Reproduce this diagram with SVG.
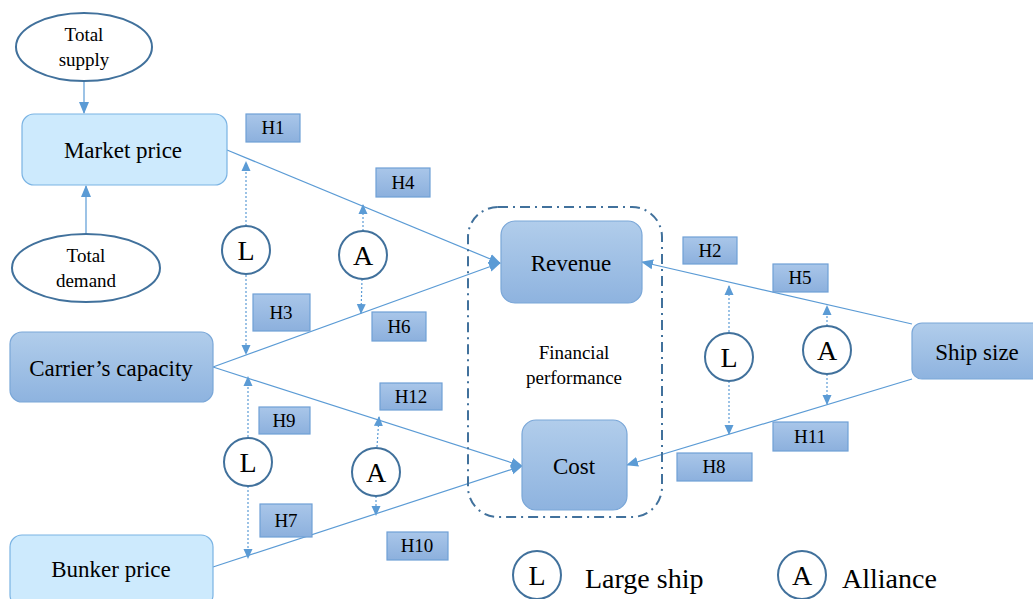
<svg xmlns="http://www.w3.org/2000/svg" width="1033" height="599" viewBox="0 0 1033 599">
<style>
text{font-family:"Liberation Serif","Times New Roman",serif;fill:#000;text-anchor:middle}
.node{font-size:23px}
.small{font-size:19px}
.hl{font-size:19px}
.circ{font-size:28px}
.leg{font-size:28px;text-anchor:start}
.ell{fill:#fff;stroke:#41719c;stroke-width:2}
.cir{fill:#fff;stroke:#41719c;stroke-width:2}
.light{fill:#cdeafd;stroke:#7ab3e3;stroke-width:1.2}
.dark{fill:url(#gDark);stroke:#7aa7d8;stroke-width:1.2}
.hbox{fill:url(#gH);stroke:#6fa0d6;stroke-width:1.2}
.conn{stroke:#5b9bd5;stroke-width:1.2;fill:none;marker-end:url(#arr)}
.dot{stroke:#5b9bd5;stroke-width:1.2;fill:none;stroke-dasharray:2,2;marker-end:url(#arrS)}
</style>
<defs>
<linearGradient id="gDark" x1="0" y1="0" x2="0" y2="1"><stop offset="0" stop-color="#b1cdeb"/><stop offset="1" stop-color="#8eb3df"/></linearGradient>
<linearGradient id="gH" x1="0" y1="0" x2="0" y2="1"><stop offset="0" stop-color="#a9c6e9"/><stop offset="1" stop-color="#8cb0dd"/></linearGradient>
<marker id="arr" markerUnits="userSpaceOnUse" markerWidth="12" markerHeight="12" viewBox="0 0 12 12" refX="11" refY="6" orient="auto"><path d="M0,1 L12,6 L0,11 Z" fill="#5b9bd5"/></marker>
<marker id="arrS" markerUnits="userSpaceOnUse" markerWidth="10" markerHeight="10" viewBox="0 0 10 10" refX="9" refY="5" orient="auto"><path d="M0,0.5 L10,5 L0,9.5 Z" fill="#5b9bd5"/></marker>
</defs>

<g id="connectors">
<line class="conn" x1="84" y1="82" x2="84" y2="113"/>
<line class="conn" x1="86" y1="234" x2="86" y2="186"/>
<line class="conn" x1="227" y1="150" x2="500" y2="263"/>
<line class="conn" x1="213" y1="367" x2="500" y2="263"/>
<line class="conn" x1="213" y1="367" x2="522" y2="466"/>
<line class="conn" x1="213" y1="567" x2="522" y2="466"/>
<line class="conn" x1="912" y1="324" x2="642" y2="262"/>
<line class="conn" x1="912" y1="379" x2="627" y2="465"/>
<line class="dot" x1="246" y1="226" x2="246" y2="162"/>
<line class="dot" x1="246" y1="275" x2="246" y2="354"/>
<line class="dot" x1="363" y1="231" x2="363" y2="205"/>
<line class="dot" x1="362" y1="279" x2="361" y2="313"/>
<line class="dot" x1="248" y1="437" x2="248" y2="377"/>
<line class="dot" x1="248" y1="486" x2="248" y2="558"/>
<line class="dot" x1="377" y1="447" x2="379" y2="417"/>
<line class="dot" x1="376" y1="496" x2="376" y2="515"/>
<line class="dot" x1="729" y1="332" x2="729" y2="286"/>
<line class="dot" x1="729" y1="381" x2="729" y2="434"/>
<line class="dot" x1="827" y1="326" x2="827" y2="306"/>
<line class="dot" x1="827" y1="374" x2="827" y2="404"/>
</g>

<g id="financial-performance">
<rect x="468" y="207" width="194" height="310" rx="30" fill="none" stroke="#41719c" stroke-width="2" stroke-dasharray="10,5,2,5"/>
<text class="small" x="574" y="359">Financial</text>
<text class="small" x="574" y="384">performance</text>
</g>

<g id="total-supply"><ellipse class="ell" cx="84" cy="47" rx="68" ry="34"/><text class="small" x="84" y="41">Total</text><text class="small" x="84" y="66">supply</text></g>
<g id="total-demand"><ellipse class="ell" cx="86" cy="268" rx="74" ry="34"/><text class="small" x="86" y="262">Total</text><text class="small" x="86" y="287">demand</text></g>
<g id="market-price"><rect class="light" x="22" y="114" width="205" height="71" rx="12"/><text class="node" x="123" y="158">Market price</text></g>
<g id="carriers-capacity"><rect class="dark" x="10" y="332" width="203" height="70" rx="12"/><text class="node" x="111" y="376">Carrier’s capacity</text></g>
<g id="bunker-price"><rect class="light" x="10" y="535" width="203" height="72" rx="12"/><text class="node" x="111" y="577">Bunker price</text></g>
<g id="revenue"><rect class="dark" x="501" y="221" width="141" height="82" rx="14"/><text class="node" x="571" y="271">Revenue</text></g>
<g id="cost"><rect class="dark" x="522" y="420" width="105" height="90" rx="14"/><text class="node" x="574" y="474">Cost</text></g>
<g id="ship-size"><rect class="dark" x="912" y="323" width="135" height="56" rx="10"/><text class="node" x="977" y="360">Ship size</text></g>

<g id="H1"><rect class="hbox" x="246" y="114" width="54" height="28"/><text class="hl" x="273" y="134">H1</text></g>
<g id="H2"><rect class="hbox" x="683" y="237" width="54" height="27"/><text class="hl" x="710" y="257">H2</text></g>
<g id="H3"><rect class="hbox" x="253" y="294" width="57" height="37"/><text class="hl" x="281" y="319">H3</text></g>
<g id="H4"><rect class="hbox" x="376" y="168" width="54" height="29"/><text class="hl" x="403" y="189">H4</text></g>
<g id="H5"><rect class="hbox" x="773" y="264" width="55" height="28"/><text class="hl" x="800" y="284">H5</text></g>
<g id="H6"><rect class="hbox" x="372" y="312" width="54" height="29"/><text class="hl" x="399" y="333">H6</text></g>
<g id="H7"><rect class="hbox" x="260" y="504" width="52" height="33"/><text class="hl" x="286" y="527">H7</text></g>
<g id="H8"><rect class="hbox" x="677" y="453" width="75" height="28"/><text class="hl" x="714" y="473">H8</text></g>
<g id="H9"><rect class="hbox" x="259" y="407" width="51" height="27"/><text class="hl" x="284" y="427">H9</text></g>
<g id="H10"><rect class="hbox" x="387" y="532" width="61" height="28"/><text class="hl" x="417" y="552">H10</text></g>
<g id="H11"><rect class="hbox" x="773" y="422" width="75" height="29"/><text class="hl" x="810" y="443">H11</text></g>
<g id="H12"><rect class="hbox" x="380" y="383" width="62" height="27"/><text class="hl" x="411" y="403">H12</text></g>

<g id="L-1"><circle class="cir" cx="246" cy="250" r="24"/><text class="circ" x="246" y="260">L</text></g>
<g id="A-1"><circle class="cir" cx="363" cy="255" r="24"/><text class="circ" x="363" y="265">A</text></g>
<g id="L-2"><circle class="cir" cx="248" cy="462" r="24"/><text class="circ" x="248" y="472">L</text></g>
<g id="A-2"><circle class="cir" cx="376" cy="472" r="24"/><text class="circ" x="376" y="482">A</text></g>
<g id="L-3"><circle class="cir" cx="729" cy="357" r="24"/><text class="circ" x="729" y="367">L</text></g>
<g id="A-3"><circle class="cir" cx="827" cy="350" r="24"/><text class="circ" x="827" y="360">A</text></g>

<g id="legend">
<circle class="cir" cx="537" cy="575" r="24"/><text class="circ" x="537" y="585">L</text>
<text class="leg" x="585" y="588">Large ship</text>
<circle class="cir" cx="802" cy="575" r="24"/><text class="circ" x="802" y="585">A</text>
<text class="leg" x="842" y="588">Alliance</text>
</g>
</svg>
